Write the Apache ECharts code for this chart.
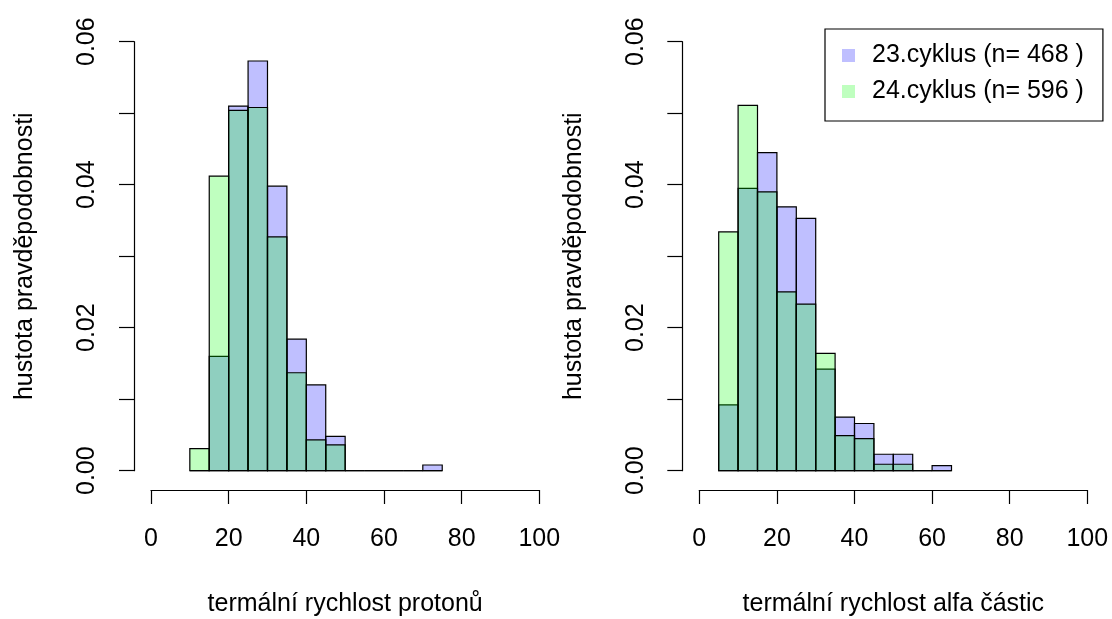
<!DOCTYPE html>
<html>
<head>
<meta charset="utf-8">
<script src="https://cdn.jsdelivr.net/npm/echarts@6/dist/echarts.min.js"></script>
<style>
html,body{margin:0;padding:0;background:#fff;}
#chart{width:1112px;height:619px;}
</style>
</head>
<body>
<div id="chart"></div>
<script>
// ---- data ----
var seriesNames = ['23.cyklus (n= 468 )', '24.cyklus (n= 596 )'];
var xTitles = ['termální rychlost protonů', 'termální rychlost alfa částic'];
var yTitle = 'hustota pravděpodobnosti';
var xTicks = [0, 20, 40, 60, 80, 100];
var yTicks = [0, 0.01, 0.02, 0.03, 0.04, 0.05, 0.06];

// proton thermal speed histogram (bin edges, densities)
var protonBreaks = [10, 15, 20, 25, 30, 35, 40, 45, 50, 55, 60, 65, 70, 75];
var proton23 = [0, 0.0160, 0.0510, 0.0573, 0.0398, 0.0184, 0.0120, 0.0048, 0, 0, 0, 0, 0.0008];
var proton24 = [0.0031, 0.0412, 0.0504, 0.0508, 0.0327, 0.0137, 0.0043, 0.0036, 0, 0, 0, 0, 0];

// alpha particle thermal speed histogram
var alphaBreaks = [5, 10, 15, 20, 25, 30, 35, 40, 45, 50, 55, 60, 65];
var alpha23 = [0.0092, 0.0395, 0.0445, 0.0369, 0.0353, 0.0142, 0.0075, 0.0066, 0.0023, 0.0023, 0, 0.0007];
var alpha24 = [0.0334, 0.0511, 0.0390, 0.0250, 0.0233, 0.0164, 0.0049, 0.0045, 0.0009, 0.0009, 0, 0];

var colors = ['rgba(0,0,255,0.25)', 'rgba(0,255,0,0.25)'];
var FONT = "'Liberation Sans', Arial, sans-serif";
var FS = 25;

function toBins(breaks, dens) {
  var out = [];
  for (var i = 0; i < dens.length; i++) out.push([breaks[i], breaks[i + 1], dens[i]]);
  return out;
}

function histSeries(name, gi, breaks, dens, color) {
  return {
    type: 'custom',
    name: name,
    xAxisIndex: gi,
    yAxisIndex: gi,
    itemStyle: { color: color },
    encode: { x: [0, 1], y: 2 },
    data: toBins(breaks, dens),
    renderItem: function (params, api) {
      var p0 = api.coord([api.value(0), api.value(2)]);
      var p1 = api.coord([api.value(1), 0]);
      return {
        type: 'rect',
        shape: { x: p0[0], y: p0[1], width: p1[0] - p0[0], height: p1[1] - p0[1] },
        style: { fill: color, stroke: '#000', lineWidth: 1.2 }
      };
    }
  };
}

function xAxisDef(gi) {
  return {
    type: 'value', gridIndex: gi, min: xTicks[0], max: xTicks[xTicks.length - 1], interval: 20,
    offset: 19.3,
    axisLine: { show: true, onZero: false, lineStyle: { color: '#000', width: 1.2 } },
    axisTick: { show: true, length: 14, lineStyle: { color: '#000', width: 1.2 } },
    axisLabel: { fontSize: FS, fontFamily: FONT, color: '#000', margin: 37 },
    splitLine: { show: false },
    name: xTitles[gi], nameLocation: 'middle', nameGap: 102,
    nameTextStyle: { fontSize: FS, fontFamily: FONT, color: '#000' }
  };
}

function yAxisDef(gi) {
  return {
    type: 'value', gridIndex: gi, min: yTicks[0], max: yTicks[yTicks.length - 1], interval: 0.01,
    offset: 17,
    axisLine: { show: true, onZero: false, lineStyle: { color: '#000', width: 1.2 } },
    axisTick: { show: true, length: 15, lineStyle: { color: '#000', width: 1.2 } },
    axisLabel: {
      fontSize: FS, fontFamily: FONT, color: '#000', margin: 34, rotate: 90,
      formatter: function (v, idx) { return idx % 2 === 0 ? v.toFixed(2) : ''; }
    },
    splitLine: { show: false },
    name: yTitle, nameLocation: 'middle', nameGap: 96, nameRotate: 90,
    nameTextStyle: { fontSize: FS, fontFamily: FONT, color: '#000' }
  };
}

var chart = echarts.init(document.getElementById('chart'), null, { renderer: 'canvas' });
chart.setOption({
  animation: false,
  backgroundColor: '#fff',
  textStyle: { fontFamily: FONT },
  grid: [
    { left: 151, top: 41.7, width: 388.3, height: 429, containLabel: false, outerBoundsMode: 'none' },
    { left: 699.3, top: 41.7, width: 388, height: 429, containLabel: false, outerBoundsMode: 'none' }
  ],
  xAxis: [xAxisDef(0), xAxisDef(1)],
  yAxis: [yAxisDef(0), yAxisDef(1)],
  legend: {
    orient: 'vertical', left: 825, top: 29,
    padding: [14, 19, 17, 17],
    itemWidth: 13, itemHeight: 13, itemGap: 11,
    icon: 'rect',
    borderColor: '#000', borderWidth: 1.2, borderRadius: 0,
    backgroundColor: '#fff',
    itemStyle: { borderWidth: 0 },
    textStyle: { fontSize: FS, fontFamily: FONT, color: '#000', padding: [0, 0, 0, 12] },
    data: seriesNames
  },
  series: [
    histSeries(seriesNames[0], 0, protonBreaks, proton23, colors[0]),
    histSeries(seriesNames[1], 0, protonBreaks, proton24, colors[1]),
    histSeries(seriesNames[0], 1, alphaBreaks, alpha23, colors[0]),
    histSeries(seriesNames[1], 1, alphaBreaks, alpha24, colors[1])
  ]
});
</script>
</body>
</html>
